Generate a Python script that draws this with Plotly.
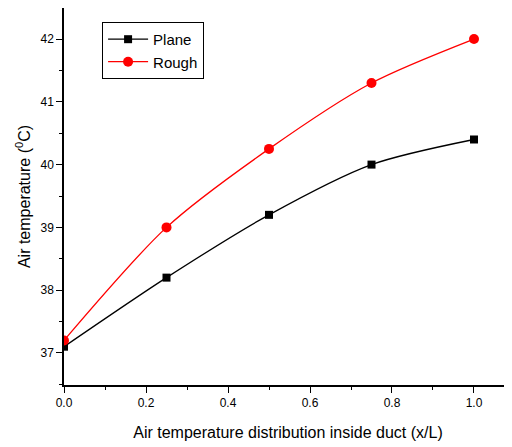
import plotly.graph_objects as go

x_pos = [0.0, 0.25, 0.5, 0.75, 1.0]
plane = [37.1, 38.2, 39.2, 40.0, 40.4]
rough = [37.2, 39.0, 40.25, 41.3, 42.0]

fig = go.Figure()
fig.add_trace(go.Scatter(x=x_pos, y=plane, name="Plane", mode="lines+markers",
                         line=dict(color="black", width=1.3, shape="spline", smoothing=0.8),
                         marker=dict(symbol="square", size=8, color="black"), cliponaxis=True))
fig.add_trace(go.Scatter(x=x_pos, y=rough, name="Rough", mode="lines+markers",
                         line=dict(color="red", width=1.3, shape="spline", smoothing=0.8),
                         marker=dict(symbol="circle", size=10, color="red"), cliponaxis=True))

font = "Liberation Sans, Arial, sans-serif"
fig.update_layout(
    width=504, height=439,
    margin=dict(l=56, r=0, t=0, b=62),
    paper_bgcolor="white", plot_bgcolor="white",
    font=dict(family=font, color="black"),
    showlegend=True,
    legend=dict(x=0.085, y=0.963, xanchor="left", yanchor="top",
                bordercolor="black", borderwidth=1, bgcolor="white",
                font=dict(size=15, family=font), tracegroupgap=0, itemwidth=40),
    xaxis=dict(range=[0, 1.0927], showgrid=False, zeroline=False, automargin=False,
               showline=True, linecolor="black", linewidth=1.5,
               ticks="outside", ticklen=6, tickwidth=1, tickcolor="black",
               tickvals=[0, 0.2, 0.4, 0.6, 0.8, 1.0],
               ticktext=["0.0", "0.2", "0.4", "0.6", "0.8", "1.0"],
               tickfont=dict(size=12),
               minor=dict(dtick=0.1, ticks="outside", ticklen=3, tickcolor="black"),
               title=dict(text="Air temperature distribution inside duct (x/L)",
                          font=dict(size=16), standoff=18)),
    yaxis=dict(range=[36.49, 42.494], showgrid=False, zeroline=False, automargin=False,
               showline=True, linecolor="black", linewidth=1.5,
               ticks="outside", ticklen=6, tickwidth=1, tickcolor="black",
               tickvals=[37, 38, 39, 40, 41, 42],
               tickfont=dict(size=12),
               minor=dict(dtick=0.5, ticks="outside", ticklen=3, tickcolor="black"),
               title=dict(text="Air temperature (<sup>0</sup>C)",
                          font=dict(size=16), standoff=6)),
)
fig.write_html("out.html")
